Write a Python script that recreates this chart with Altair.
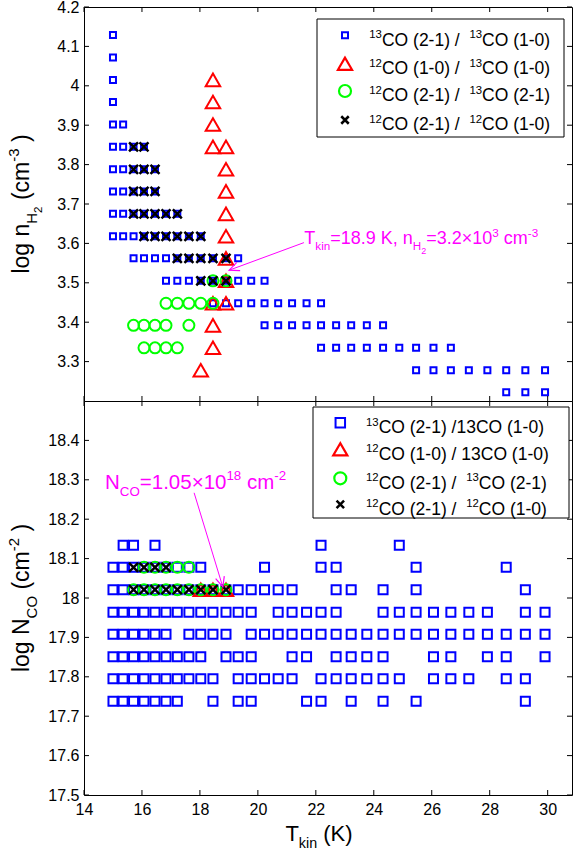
import altair as alt
import pandas as pd

FONT = "Liberation Sans"
BLUE, RED, GREEN, BLACK, MAGENTA = "#0000ff", "#ff0000", "#00ff00", "#000000", "#ff00ff"

# Model grid: kinetic temperature (K), indexed 0..30
T_GRID = [15.0, 15.35, 15.71, 16.07, 16.45, 16.83, 17.22, 17.62, 18.03, 18.45,
          18.9, 19.32, 19.77, 20.23, 20.70, 21.18, 21.68, 22.18, 22.70, 23.22,
          23.76, 24.32, 24.88, 25.46, 26.06, 26.66, 27.28, 27.92, 28.57, 29.23,
          29.91]

# log n(H2) levels (cm^-3), indexed 0..16
LOG_NH2 = [3.222, 3.278, 3.335, 3.392, 3.448, 3.505, 3.562, 3.618, 3.675,
           3.732, 3.788, 3.845, 3.902, 3.959, 4.015, 4.072, 4.129]

# log N(CO) levels (cm^-2), indexed 0..7
LOG_NCO = [17.738, 17.795, 17.851, 17.908, 17.964, 18.021, 18.078, 18.134]

# Density panel: row index -> temperature indices matching each ratio
NH2_13CO21_13CO10 = {
    0: [28, 29, 30],
    1: [23, 24, 25, 26, 27, 28, 29, 30],
    2: [17, 18, 19, 20, 21, 22, 23, 24, 25],
    3: [13, 14, 15, 16, 17, 18, 19, 20, 21],
    4: [9, 10, 11, 12, 13, 14, 15, 16, 17],
    5: [5, 6, 7, 8, 9, 10, 11, 12, 13],
    6: [2, 3, 4, 5, 6, 7, 8, 9, 10, 11],
    7: [0, 1, 2, 3, 4, 5, 6, 7, 8],
    8: [0, 1, 2, 3, 4, 5, 6],
    9: [0, 1, 2, 3, 4],
    10: [0, 1, 2, 3, 4],
    11: [0, 1, 2, 3],
    12: [0, 1],
    13: [0],
    14: [0],
    15: [0],
    16: [0],
}
NH2_12CO10_13CO10 = {
    1: [8], 2: [9], 3: [9], 4: [9, 10], 5: [10], 6: [10], 7: [10], 8: [10],
    9: [10], 10: [10], 11: [9, 10], 12: [9], 13: [9], 14: [9],
}
NH2_12CO21_13CO21 = {
    2: [3, 4, 5, 6],
    3: [2, 3, 4, 5, 7],
    4: [5, 6, 7, 8, 9],
    5: [9, 10],
}
NH2_12CO21_12CO10 = {
    5: [8, 9, 10],
    6: [6, 7, 8, 9, 10],
    7: [3, 4, 5, 6, 7, 8],
    8: [2, 3, 4, 5, 6],
    9: [2, 3, 4],
    10: [2, 3, 4],
    11: [2, 3],
}

# Column-density panel: row index -> temperature indices
NCO_13CO21_13CO10 = {
    0: [0, 1, 2, 3, 4, 5, 6, 9, 11, 12, 16, 17, 19, 21, 23, 29],
    1: [0, 1, 2, 3, 4, 5, 6, 7, 8, 9, 11, 12, 13, 14, 15, 17, 18, 19, 20, 21,
        22, 24, 25, 26, 28, 29],
    2: [0, 1, 2, 3, 4, 5, 6, 7, 8, 10, 11, 12, 15, 16, 18, 19, 20, 21, 24, 25,
        27, 28, 30],
    3: [0, 1, 2, 3, 4, 5, 7, 8, 9, 10, 12, 13, 14, 15, 16, 17, 18, 19, 20, 21,
        22, 23, 24, 25, 26, 27, 28, 29, 30],
    4: [0, 1, 2, 3, 4, 5, 6, 7, 8, 9, 10, 11, 12, 14, 15, 16, 17, 18, 21, 22,
        23, 24, 25, 26, 27, 29, 30],
    5: [0, 1, 2, 3, 4, 5, 6, 7, 8, 9, 10, 11, 12, 13, 14, 15, 18, 19, 21, 23,
        29],
    6: [0, 1, 2, 3, 4, 5, 6, 7, 8, 13, 17, 18, 23, 28],
    7: [1, 2, 4, 17, 22],
}
NCO_12CO10_13CO10 = {5: [8, 9, 10]}
NCO_12CO21_13CO21 = {5: [2, 3, 4, 5, 6, 7, 8, 9, 10], 6: [3, 4, 5, 6, 7]}
NCO_12CO21_12CO10 = {5: [2, 3, 4, 5, 6, 7, 8, 9, 10], 6: [2, 3, 4, 5]}

# Best-fit annotations (arrow tail -> head)
ARROW_NH2 = {"T": [21.59, 19.01], "v": [3.602, 3.532]}
ARROW_NCO = {"T": [17.80, 18.79], "v": [18.267, 18.028]}

X_TICKS = [14, 16, 18, 20, 22, 24, 26, 28, 30]
NH2_TICKS = [3.3, 3.4, 3.5, 3.6, 3.7, 3.8, 3.9, 4.0, 4.1, 4.2]
NCO_TICKS = [17.5, 17.6, 17.7, 17.8, 17.9, 18.0, 18.1, 18.2, 18.3, 18.4]

W, H = 488, 394
ONE = pd.DataFrame({"_": [0]})
X_MARK = "M-1,-1L1,1M-1,1L1,-1"
HEAD = "M-0.45,1L0,0L0.45,1"

ADV = {" ": 278, "(": 333, ")": 333, "-": 333, "/": 278, ".": 278, ",": 278,
       "=": 584, "×": 584, "C": 722, "O": 778, "N": 722, "H": 722, "T": 611,
       "K": 667, "l": 222, "o": 556, "g": 556, "n": 556, "c": 500, "m": 833,
       "k": 500, "i": 222}
ROLE = {"n": (1.0, 0.0), "sup": (0.65, -0.42), "sub": (0.65, 0.33),
        "subsub": (0.5, 0.55)}


def adv(s, size):
    return sum(ADV.get(ch, 556) for ch in s) * size / 1000.0


def run_width(pieces, size):
    return sum(adv(t, size * ROLE[r][0]) for t, r in pieces)


def rich_text(pieces, x0, y0, size, color=BLACK, angle=0):
    """Lay out a run of normal / super / subscript pieces as text marks."""
    layers = []
    pos = 0.0
    for txt, role in pieces:
        scale, shift = ROLE[role]
        fs = size * scale
        off = shift * size
        lead = len(txt) - len(txt.lstrip(" "))
        shown = txt.strip(" ")
        p = pos + adv(" " * lead, fs)
        if shown:
            if angle == 0:
                px, py = x0 + p, y0 + off
            else:
                px, py = x0 + off, y0 - p
            layers.append(
                alt.Chart(ONE).mark_text(
                    align="left", baseline="alphabetic", font=FONT,
                    fontSize=fs, color=color, angle=angle,
                ).encode(x=alt.value(px), y=alt.value(py), text=alt.value(shown))
            )
        pos += adv(txt, fs)
    return layers


def cells(rows, levels):
    return pd.DataFrame(
        [{"T": T_GRID[k], "v": levels[r]} for r, ks in rows.items() for k in ks]
    )


class Panel:
    """Shared x/y encodings so that every layer carries the same axes."""

    def __init__(self, xs, xaxis, ys, yaxis):
        self.x = alt.X("T:Q", scale=xs, axis=xaxis)
        self.y = alt.Y("v:Q", scale=ys, axis=yaxis)

    def points(self, df, shape, color, size, sw):
        return alt.Chart(df).mark_point(
            shape=shape, filled=False, color=color, size=size, strokeWidth=sw,
            opacity=1,
        ).encode(x=self.x, y=self.y)

    def frame_ticks(self, yticks):
        xt = pd.DataFrame({"T": X_TICKS})
        yt = pd.DataFrame({"v": yticks})
        out = []
        for a, b in ((0, 5), (H, H - 5)):
            out.append(alt.Chart(xt).mark_rule(color=BLACK, strokeWidth=1).encode(
                x=self.x, y=alt.value(a), y2=alt.value(b)))
        for a, b in ((0, 5), (W, W - 5)):
            out.append(alt.Chart(yt).mark_rule(color=BLACK, strokeWidth=1).encode(
                y=self.y, x=alt.value(a), x2=alt.value(b)))
        return out

    def arrow(self, data, angle):
        df = pd.DataFrame(data)
        line = alt.Chart(df).mark_line(color=MAGENTA, strokeWidth=1).encode(
            x=self.x, y=self.y)
        head = alt.Chart(df.iloc[[1]]).mark_point(
            shape=HEAD, filled=False, color=MAGENTA, size=400, strokeWidth=1.2,
            angle=angle, opacity=1,
        ).encode(x=self.x, y=self.y)
        return [line, head]


def legend(box, mx, rows, tx, entries, size):
    x1, x2, y1, y2 = box
    out = [alt.Chart(ONE).mark_rect(fill="white", stroke=BLACK, strokeWidth=1).encode(
        x=alt.value(x1), x2=alt.value(x2), y=alt.value(y1), y2=alt.value(y2))]
    for y, (shape, color, msize, sw, pieces) in zip(rows, entries):
        out.append(alt.Chart(ONE).mark_point(
            shape=shape, filled=False, color=color, size=msize, strokeWidth=sw,
            opacity=1).encode(x=alt.value(mx), y=alt.value(y)))
        out += rich_text(pieces, tx, y + 10.3, size)
    return out


def y_title(pieces, size, x_base):
    total = run_width(pieces, size)
    return rich_text(pieces, x_base, H / 2 + total / 2, size, angle=270)


xs = alt.Scale(domain=[14, 30.84], nice=False, zero=False)
TITLE_SIZE = 23
LEG_SIZE = 17.5

# ---------------- upper panel: log n(H2) ----------------
p1 = Panel(
    xs, None,
    alt.Scale(domain=[3.2, 4.2], nice=False, zero=False),
    alt.Axis(values=NH2_TICKS, format=".1~f", title=None),
)
top_layers = [
    alt.Chart(ONE).mark_rect(opacity=0).encode(
        x=alt.value(-83), x2=alt.value(0), y=alt.value(-12), y2=alt.value(0)),
    p1.points(cells(NH2_13CO21_13CO10, LOG_NH2), "square", BLUE, 36, 2),
    p1.points(cells(NH2_12CO10_13CO10, LOG_NH2), "triangle-up", RED, 210, 2),
    p1.points(cells(NH2_12CO21_13CO21, LOG_NH2), "circle", GREEN, 121, 2),
    p1.points(cells(NH2_12CO21_12CO10, LOG_NH2), X_MARK, BLACK, 81, 2.5),
]
top_layers += p1.frame_ticks(NH2_TICKS)
top_layers += p1.arrow(ARROW_NH2, 248.5)
top_layers += rich_text(
    [("T", "n"), ("kin", "sub"), ("=18.9 K, n", "n"), ("H", "sub"),
     ("2", "subsub"), ("=3.2×10", "n"), ("3", "sup"), (" cm", "n"), ("-3", "sup")],
    220.3, 237.3, 18, color=MAGENTA)
top_layers += legend(
    (233, 480, 12, 130), 261, [28.3, 56.7, 84, 113], 285.3,
    [
        ("square", BLUE, 36, 2,
         [("13", "sup"), ("CO (2-1) /", "n"), ("  ", "n"), ("13", "sup"), ("CO (1-0)", "n")]),
        ("triangle-up", RED, 200, 2.2,
         [("12", "sup"), ("CO (1-0) /", "n"), ("  ", "n"), ("13", "sup"), ("CO (1-0)", "n")]),
        ("circle", GREEN, 144, 2.2,
         [("12", "sup"), ("CO (2-1) /", "n"), ("  ", "n"), ("13", "sup"), ("CO (2-1)", "n")]),
        (X_MARK, BLACK, 56, 2.5,
         [("12", "sup"), ("CO (2-1) /", "n"), ("  ", "n"), ("12", "sup"), ("CO (1-0)", "n")]),
    ],
    LEG_SIZE,
)
top_layers += y_title(
    [("log n", "n"), ("H", "sub"), ("2", "subsub"), (" (cm", "n"), ("-3", "sup"),
     (" )", "n")], TITLE_SIZE, -55)

top = alt.layer(*top_layers).properties(width=W, height=H)

# ---------------- lower panel: log N(CO) ----------------
p2 = Panel(
    xs, alt.Axis(values=X_TICKS, format="d", title=None, labelPadding=6),
    alt.Scale(domain=[17.5, 18.5], nice=False, zero=False),
    alt.Axis(values=NCO_TICKS, format=".1~f", title=None),
)
bot_layers = [
    p2.points(cells(NCO_13CO21_13CO10, LOG_NCO), "square", BLUE, 81, 2),
    p2.points(cells(NCO_12CO10_13CO10, LOG_NCO), "triangle-up", RED, 210, 2),
    p2.points(cells(NCO_12CO21_13CO21, LOG_NCO), "circle", GREEN, 121, 2),
    p2.points(cells(NCO_12CO21_12CO10, LOG_NCO), X_MARK, BLACK, 81, 2.5),
]
bot_layers += p2.frame_ticks(NCO_TICKS)
bot_layers += p2.arrow(ARROW_NCO, 163.6)
bot_layers += rich_text(
    [("N", "n"), ("CO", "sub"), ("=1.05×10", "n"), ("18", "sup"), (" cm", "n"),
     ("-2", "sup")],
    21, 88, 20.5, color=MAGENTA)
bot_layers += legend(
    (229, 485, 6, 117), 256.3, [21.7, 48.3, 77.3, 103.3], 282,
    [
        ("square", BLUE, 90, 2,
         [("13", "sup"), ("CO (2-1) /13CO (1-0)", "n")]),
        ("triangle-up", RED, 200, 2.2,
         [("12", "sup"), ("CO (1-0) / 13CO (1-0)", "n")]),
        ("circle", GREEN, 144, 2.2,
         [("12", "sup"), ("CO (2-1) /", "n"), ("  ", "n"), ("13", "sup"), ("CO (2-1)", "n")]),
        (X_MARK, BLACK, 56, 2.5,
         [("12", "sup"), ("CO (2-1) /", "n"), ("  ", "n"), ("12", "sup"), ("CO (1-0)", "n")]),
    ],
    LEG_SIZE,
)
bot_layers += y_title(
    [("log N", "n"), ("CO", "sub"), (" (cm", "n"), ("-2", "sup"), (" )", "n")],
    TITLE_SIZE, -55)
xt_pieces = [("T", "n"), ("kin", "sub"), (" (K)", "n")]
bot_layers += rich_text(
    xt_pieces, 235 - run_width(xt_pieces, 22) / 2, H + 46, 22)

bottom = alt.layer(*bot_layers).properties(width=W, height=H)

chart = (
    alt.vconcat(top, bottom, spacing=0, bounds="flush")
    .properties(padding={"left": 0, "top": -6, "right": 0, "bottom": 0})
    .configure_view(stroke=BLACK, strokeWidth=1)
    .configure_axis(
        labelFont=FONT, labelFontSize=16, labelColor=BLACK, ticks=False,
        domain=False, grid=False, labelFlush=False, labelPadding=5,
    )
)

chart.save("out.html", embed_options={"renderer": "svg", "actions": False})
